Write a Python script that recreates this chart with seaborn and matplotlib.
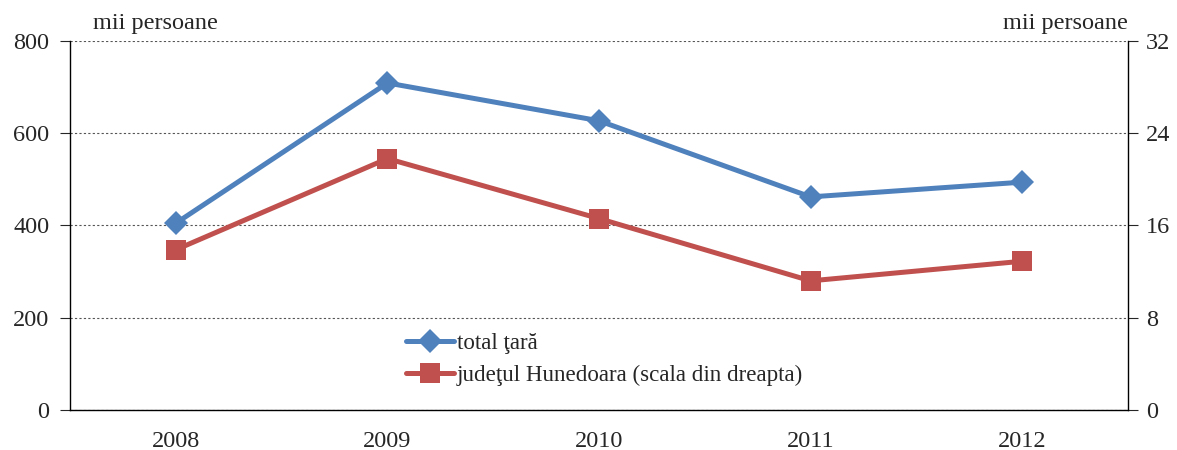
import pandas as pd
import seaborn as sns
import matplotlib.pyplot as plt
from matplotlib.ticker import FixedLocator

years = ["2008", "2009", "2010", "2011", "2012"]
total_tara = [405, 709, 627, 462, 494]          # mii persoane, left axis
hunedoara = [13.9, 21.8, 16.6, 11.2, 12.9]      # mii persoane, right axis

df = pd.DataFrame({"an": years, "total": total_tara, "hd": hunedoara})

sns.set_style("white")
plt.rcParams["font.family"] = ["Liberation Serif", "DejaVu Serif"]
plt.rcParams["font.size"] = 17.5

blue = "#4F81BD"
red = "#C0504D"

fig = plt.figure(figsize=(11.77, 4.5), dpi=100)
ax = fig.add_axes([0.0595, 0.0889, 0.8989, 0.82])
ax2 = ax.twinx()

sns.lineplot(data=df, x="an", y="total", ax=ax, color=blue, lw=3.6,
             marker="D", markersize=12, markeredgewidth=0, label="total ţară",
             legend=False)
sns.lineplot(data=df, x="an", y="hd", ax=ax2, color=red, lw=3.6,
             marker="s", markersize=14, markeredgewidth=0,
             label="judeţul Hunedoara (scala din dreapta)", legend=False)

ax.set_xlim(-0.5, 4.5)
ax.set_ylim(0, 800)
ax2.set_ylim(0, 32)
ax.set_yticks([0, 200, 400, 600, 800])
ax2.set_yticks([0, 8, 16, 24, 32])
ax.set_xlabel("")
ax.set_ylabel("")
ax2.set_ylabel("")

# category boundaries as tick marks, labels centered
ax.xaxis.set_major_locator(FixedLocator(range(5)))
ax.set_xticklabels(years)
ax.xaxis.set_minor_locator(FixedLocator([-0.5, 0.5, 1.5, 2.5, 3.5, 4.5]))
ax.tick_params(axis="x", which="major", length=0, pad=15, labelsize=17.5)
ax.tick_params(axis="x", which="minor", length=6, width=0.8, color="#888888", direction="out")
ax.tick_params(axis="y", length=7, width=0.8, direction="out", labelsize=17.5, pad=8)
ax2.tick_params(axis="y", length=7, width=0.8, direction="out", labelsize=17.5, pad=6)

ax.grid(axis="y", linestyle=(0, (2, 2)), color="#555555", lw=0.8)
ax.set_axisbelow(True)

for a in (ax, ax2):
    a.spines["top"].set_visible(False)
    for s in ("left", "right", "bottom"):
        a.spines[s].set_color("black")
        a.spines[s].set_linewidth(1.0)
ax.spines["right"].set_visible(False)
ax2.spines["left"].set_visible(False)
ax2.spines["bottom"].set_visible(False)

fig.text(0.079, 0.948, "mii persoane", fontsize=17.5, ha="left", va="center")
fig.text(0.958, 0.948, "mii persoane", fontsize=17.5, ha="right", va="center")

h1, l1 = ax.get_legend_handles_labels()
h2, l2 = ax2.get_legend_handles_labels()
ax2.legend(h1 + h2, l1 + l2, loc="upper left", bbox_to_anchor=(0.3065, 0.24),
           frameon=False, fontsize=16.6, handlelength=2.1, handletextpad=0.1,
           labelspacing=0.45, borderpad=0)

fig.savefig("out.png", dpi=100)
